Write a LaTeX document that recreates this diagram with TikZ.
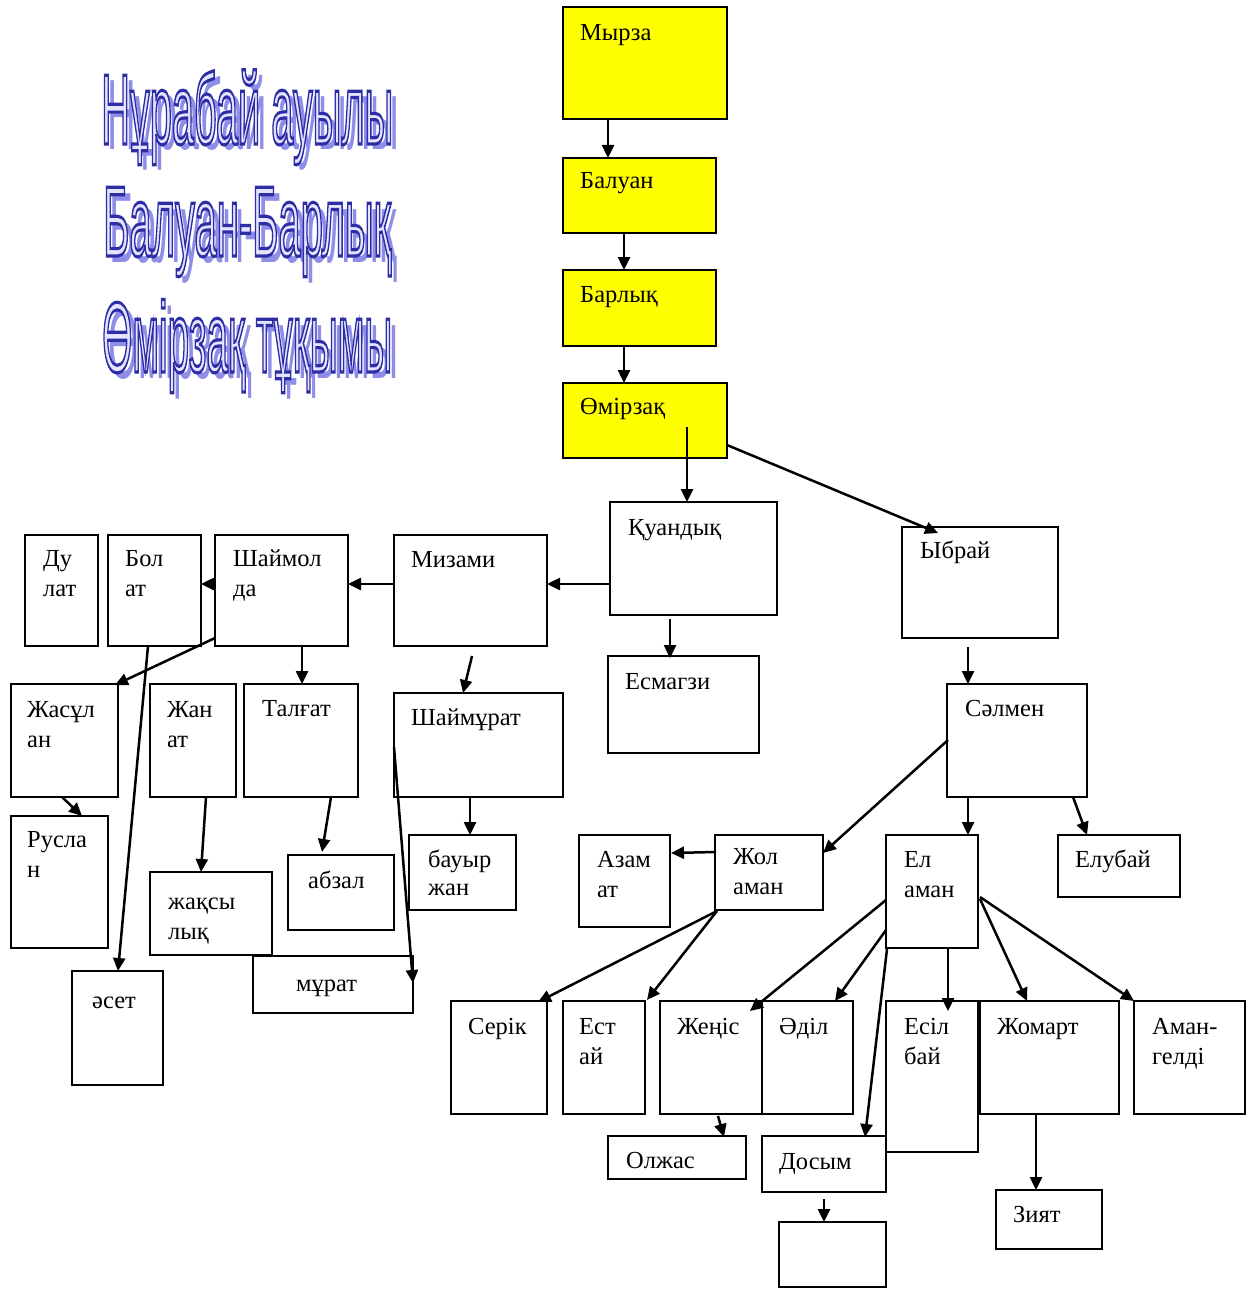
\documentclass[tikz,border=0pt]{standalone}
\usepackage{fontspec}
\usepackage{graphicx}
\setmainfont{Liberation Serif}
\newfontfamily\ttlfont{Liberation Sans}
\usetikzlibrary{arrows.meta,calc}
\definecolor{ybox}{RGB}{255,255,0}
\definecolor{outblue}{RGB}{45,45,165}
\definecolor{fillblue}{RGB}{228,228,255}
\definecolor{shadowblue}{RGB}{95,95,225}
\tikzset{
  nbox/.style={draw=black, line width=1.5pt, inner sep=0pt, outer sep=0pt, fill=white},
  lbl/.style={anchor=base west, inner sep=0pt, font=\fontsize{24.5}{30}\selectfont},
  arr/.style={line width=2.5pt, -{Triangle[length=13pt,width=12pt]}},
  ttlst/.style={anchor=base west, inner sep=0pt, font=\ttlfont\fontsize{100}{100}\selectfont},
}
% style, name, x1, y1, x2, y2, dx, dy, text
\newcommand\bx[9]{%
  \node[nbox,#1,minimum width={(#5-#3)*1pt},minimum height={(#6-#4)*1pt}] (#2) at ({(#3+#5)/2},{(#4+#6)/2}) {};
  \node[lbl] (#2-t) at ({#3+#7},{#4+#8}) {\begin{tabular}[t]{@{}l@{}}#9\end{tabular}};
}
% from node, dx, dy, to node, dx, dy (offsets from north west corners)
\newcommand\ar[6]{\draw[arr] ($(#1.north west)+(#2,#3)$) -- ($(#4.north west)+(#5,#6)$);}
% outlined text (fill + stroke rendering mode)
\newcommand\outltext[1]{\special{pdf:literal direct 2 Tr 3.2 w 0.176 0.176 0.647 RG}#1\special{pdf:literal direct 0 Tr}}
% name, x, y, width, text
\newcommand\ttl[5]{%
  \node[ttlst, text=shadowblue, opacity=0.7] (#1-s) at ({#2+6},{#3+6}) {\resizebox{#4pt}{\height}{#5}};
  \node[ttlst, text=fillblue] (#1) at (#2,#3) {\resizebox{#4pt}{\height}{\outltext{#5}}};
}
\begin{document}
\begin{tikzpicture}[x=1pt,y=-1pt]
\useasboundingbox[fill=white] (0,0) rectangle (1247,1289);
% title
\ttl{t1}{101}{144}{292}{Нұрабай ауылы}
\ttl{t2}{103}{256}{288}{Балуан-Барлық}
\ttl{t3}{102}{372}{290}{Өмірзақ тұқымы}
% boxes
\bx{fill=ybox}{myrza}{563}{7}{727}{119}{17}{34}{Мырза}
\bx{fill=ybox}{baluan}{563}{158}{716}{233}{17}{31}{Балуан}
\bx{fill=ybox}{barlyk}{563}{270}{716}{346}{17}{32}{Барлық}
\bx{fill=ybox}{omirzak}{563}{383}{727}{458}{17}{31}{Өмірзақ}
\bx{}{kuandyk}{610}{502}{777}{615}{18}{33}{Қуандық}
\bx{}{ybrai}{902}{527}{1058}{638}{18}{31}{Ыбрай}
\bx{}{mizami}{394}{535}{547}{646}{17}{32}{Мизами}
\bx{}{shaimolda}{215}{535}{348}{646}{18}{31}{Шаймол\\да}
\bx{}{bolat}{108}{535}{201}{646}{17}{31}{Бол\\ат}
\bx{}{dulat}{25}{535}{98}{646}{18}{31}{Ду\\лат}
\bx{}{esmagzi}{608}{656}{759}{753}{17}{33}{Есмагзи}
\bx{}{salmen}{947}{684}{1087}{797}{18}{32}{Сәлмен}
\bx{}{zhasulan}{11}{684}{118}{797}{16}{33}{Жасұл\\ан}
\bx{}{zhanat}{150}{684}{236}{797}{17}{33}{Жан\\ат}
\bx{}{talgat}{244}{684}{358}{797}{18}{32}{Талғат}
\bx{}{shaimurat}{394}{693}{563}{797}{17}{32}{Шаймұрат}
\bx{}{ruslan}{11}{816}{108}{948}{16}{31}{Русла\\н}
\bx{}{bauyrzhan}{409}{835}{516}{910}{19}{32}{бауыр\\[-2pt]жан}
\bx{}{abzal}{288}{855}{394}{930}{20}{33}{абзал}
\bx{}{zhaksylyk}{150}{872}{272}{955}{18}{37}{жақсы\\лық}
\bx{}{murat}{253}{956}{413}{1013}{43}{35}{мұрат}
\bx{}{aset}{72}{971}{163}{1085}{20}{37}{әсет}
\bx{}{azamat}{579}{835}{670}{927}{18}{32}{Азам\\ат}
\bx{}{zholaman}{715}{835}{823}{910}{18}{29}{Жол\\аман}
\bx{}{elaman}{886}{835}{978}{948}{18}{32}{Ел\\аман}
\bx{}{elubai}{1058}{835}{1180}{897}{17}{32}{Елубай}
\bx{}{serik}{451}{1001}{547}{1114}{17}{33}{Серік}
\bx{}{estai}{563}{1001}{645}{1114}{16}{33}{Ест\\ай}
\bx{}{esilbai}{886}{1001}{978}{1152}{18}{33}{Есіл\\бай}
\bx{}{zhenis}{660}{1001}{762}{1114}{17}{33}{Жеңіс}
\bx{}{adil}{762}{1001}{853}{1114}{17}{33}{Әділ}
\bx{}{zhomart}{980}{1001}{1119}{1114}{17}{33}{Жомарт}
\bx{}{amangeldi}{1134}{1001}{1245}{1114}{18}{33}{Аман-\\гелді}
\bx{}{olzhas}{608}{1136}{746}{1179}{18}{32}{Олжас}
\bx{}{dosym}{762}{1136}{886}{1192}{17}{33}{Досым}
\bx{}{empty}{779}{1222}{886}{1287}{0}{0}{}
\bx{}{ziyat}{996}{1190}{1102}{1249}{17}{32}{Зият}
% connectors
\ar{myrza}{45}{112}{baluan}{45}{0}
\ar{baluan}{61}{75}{barlyk}{61}{0}
\ar{barlyk}{61}{76}{omirzak}{61}{0}
\ar{omirzak}{124}{44}{kuandyk}{77}{0}
\ar{omirzak}{164}{62}{ybrai}{36}{6}
\ar{kuandyk}{0}{82}{mizami}{153}{49}
\ar{kuandyk}{60}{117}{esmagzi}{62}{2}
\ar{mizami}{0}{49}{shaimolda}{133}{49}
\ar{shaimolda}{0}{49}{bolat}{93}{49}
\ar{shaimolda}{0}{103}{zhasulan}{104}{1}
\ar{shaimolda}{87}{111}{talgat}{58}{0}
\ar{mizami}{78}{121}{shaimurat}{69}{0}
\ar{bolat}{40}{111}{aset}{46}{0}
\ar{zhasulan}{51}{113}{ruslan}{71}{0}
\ar{zhanat}{56}{113}{zhaksylyk}{51}{0}
\ar{talgat}{87}{113}{abzal}{34}{-3}
\ar{shaimurat}{0}{54}{murat}{160}{27}
\ar{shaimurat}{76}{104}{bauyrzhan}{61}{0}
\ar{ybrai}{66}{120}{salmen}{21}{0}
\ar{salmen}{1}{56}{zholaman}{108}{18}
\ar{salmen}{21}{113}{elaman}{82}{0}
\ar{salmen}{126}{113}{elubai}{29}{0}
\ar{zholaman}{1}{17}{azamat}{92}{18}
\ar{zholaman}{2}{76}{serik}{87}{1}
\ar{zholaman}{2}{76}{estai}{84}{-1}
\ar{elaman}{0}{65}{zhenis}{90}{10}
\ar{elaman}{0}{95}{adil}{73}{0}
\ar{elaman}{1}{114}{dosym}{103}{1}
\ar{elaman}{62}{113}{esilbai}{62}{10}
\ar{elaman}{94}{64}{zhomart}{47}{0}
\ar{elaman}{94}{62}{amangeldi}{0}{0}
\ar{zhomart}{56}{113}{ziyat}{40}{0}
\ar{zhenis}{58}{115}{olzhas}{116}{1}
\ar{dosym}{62}{63}{empty}{45}{0}
\end{tikzpicture}
\end{document}
